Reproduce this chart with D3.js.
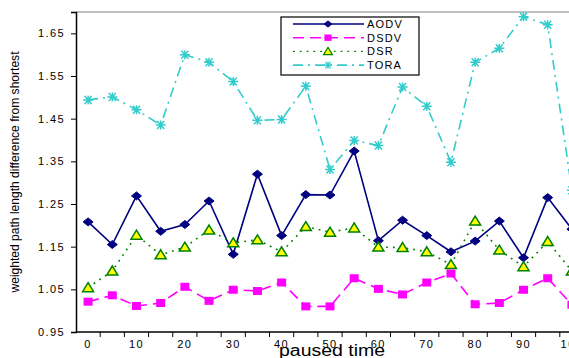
<!DOCTYPE html>
<html>
<head>
<meta charset="utf-8">
<script src="https://cdn.jsdelivr.net/npm/d3@7"></script>
<style>
    body { margin: 0; background: #fff; }
    text { font-family: "Liberation Sans", Arial, sans-serif; }
</style>
</head>
<body>
<div id="chart"></div>
<script>
var pausedTimes = [0, 5, 10, 15, 20, 25, 30, 35, 40, 45, 50, 55, 60, 65, 70, 75, 80, 85, 90, 95, 100];
var tickLabels = [0, 10, 20, 30, 40, 50, 60, 70, 80, 90, 100];
var yTicks = [0.95, 1.05, 1.15, 1.25, 1.35, 1.45, 1.55, 1.65];
var seriesNames = ["AODV", "DSDV", "DSR", "TORA"];

var aodv = [1.208, 1.155, 1.269, 1.186, 1.202, 1.257, 1.132, 1.320, 1.176, 1.272, 1.271, 1.374, 1.164, 1.212, 1.176, 1.138, 1.163, 1.210, 1.124, 1.265, 1.191];
var dsdv = [1.021, 1.036, 1.011, 1.018, 1.056, 1.023, 1.049, 1.046, 1.066, 1.010, 1.010, 1.076, 1.051, 1.038, 1.066, 1.087, 1.015, 1.018, 1.049, 1.076, 1.014];
var dsr = [1.054, 1.093, 1.177, 1.131, 1.149, 1.189, 1.159, 1.166, 1.138, 1.197, 1.184, 1.194, 1.149, 1.148, 1.138, 1.108, 1.210, 1.142, 1.103, 1.162, 1.093];
var tora = [1.494, 1.501, 1.471, 1.435, 1.600, 1.582, 1.537, 1.446, 1.448, 1.526, 1.331, 1.399, 1.387, 1.524, 1.479, 1.348, 1.582, 1.615, 1.689, 1.670, 1.282];

var width = 569, height = 358;
var margin = { top: 12, left: 76, bottom: 26 };
var plotW = 508;
var plotBottom = height - margin.bottom;

var svg = d3.select("#chart").append("svg")
    .attr("width", width)
    .attr("height", height);

var x = d3.scaleBand()
    .domain(pausedTimes)
    .range([margin.left, margin.left + plotW]);

var y = d3.scaleLinear()
    .domain([0.95, 1.70])
    .range([plotBottom, margin.top]);

var cx = d => x(d) + x.bandwidth() / 2;

// styles per series
var styles = [
    { data: aodv, color: "#000080", dash: null, marker: "diamond", sw: 1.6 },
    { data: dsdv, color: "#ff00ff", dash: "11,6", marker: "square", sw: 1.6 },
    { data: dsr, color: "#008000", dash: "1.8,5", marker: "triangle", sw: 1.6 },
    { data: tora, color: "#33cccc", dash: "10,5,2,5", marker: "star", sw: 1.6 }
];

// plot border top (grey)
svg.append("line")
    .attr("x1", margin.left).attr("x2", width)
    .attr("y1", margin.top).attr("y2", margin.top)
    .attr("stroke", "#aaaaaa").attr("stroke-width", 1.5);

// y axis
var yAxis = d3.axisLeft(y)
    .tickValues(yTicks)
    .tickFormat(d3.format(".2f"))
    .tickSize(5)
    .tickPadding(6);

var gy = svg.append("g")
    .attr("transform", "translate(" + margin.left + ",0)")
    .call(yAxis);
gy.select(".domain").attr("stroke", "#000").attr("stroke-width", 1.5);
gy.selectAll(".tick line").attr("stroke", "#000");
gy.selectAll("text")
    .attr("font-size", 11)
    .attr("letter-spacing", "1.4px")
    .attr("fill", "#000");

// x axis: ticks at band boundaries, labels on every other category
var gx = svg.append("g")
    .attr("transform", "translate(0," + plotBottom + ")");
gx.append("line")
    .attr("x1", margin.left).attr("x2", margin.left + plotW)
    .attr("stroke", "#000").attr("stroke-width", 1.5);
gx.selectAll(".xtick")
    .data(pausedTimes)
    .enter().append("line")
    .attr("class", "xtick")
    .attr("x1", d => x(d) + x.bandwidth())
    .attr("x2", d => x(d) + x.bandwidth())
    .attr("y1", 0).attr("y2", 5)
    .attr("stroke", "#000");
gx.selectAll(".xlabel")
    .data(tickLabels)
    .enter().append("text")
    .attr("class", "xlabel")
    .attr("x", d => cx(d))
    .attr("y", 16)
    .attr("text-anchor", "middle")
    .attr("font-size", 11)
    .attr("letter-spacing", "1.4px")
    .text(d => d);

// axis titles
svg.append("text")
    .attr("x", 332)
    .attr("y", 356)
    .attr("text-anchor", "middle")
    .attr("font-size", 16)
    .attr("textLength", 106)
    .attr("lengthAdjust", "spacingAndGlyphs")
    .text("paused time");

svg.append("text")
    .attr("transform", "translate(19,172) rotate(-90)")
    .attr("text-anchor", "middle")
    .attr("font-size", 13)
    .attr("textLength", 241)
    .attr("lengthAdjust", "spacingAndGlyphs")
    .text("weighted path length difference from shortest");

function drawMarker(g, kind, color) {
    if (kind === "diamond") {
        g.append("path").attr("d", "M-5,0L0,-4L5,0L0,4Z").attr("fill", color).attr("stroke", color);
    } else if (kind === "square") {
        g.append("rect").attr("x", -4.5).attr("y", -4).attr("width", 9).attr("height", 8).attr("fill", color);
    } else if (kind === "triangle") {
        g.append("path").attr("d", "M0,-5L5.5,4L-5.5,4Z")
            .attr("fill", "#ffff00").attr("stroke", color).attr("stroke-width", 1.5);
    } else {
        g.append("path").attr("d", "M-5,0L5,0M-3.5,-4L3.5,4M-3.5,4L3.5,-4M0,-4.5L0,4.5")
            .attr("stroke", color).attr("stroke-width", 1.5).attr("fill", "none");
    }
}

var line = d3.line()
    .x((d, i) => cx(pausedTimes[i]))
    .y(d => y(d));

styles.forEach(s => {
    svg.append("path")
        .datum(s.data)
        .attr("fill", "none")
        .attr("stroke", s.color)
        .attr("stroke-width", s.sw)
        .attr("stroke-dasharray", s.dash)
        .attr("d", line);

    svg.selectAll(null)
        .data(s.data)
        .enter().append("g")
        .attr("transform", (d, i) => "translate(" + cx(pausedTimes[i]) + "," + y(d) + ")")
        .each(function () { drawMarker(d3.select(this), s.marker, s.color); });
});

// legend
var legend = svg.append("g");
legend.append("rect")
    .attr("x", 281).attr("y", 17)
    .attr("width", 138).attr("height", 58)
    .attr("fill", "#fff").attr("stroke", "#000").attr("stroke-width", 1.2);

styles.forEach((s, i) => {
    var ly = 24 + i * 13.7;
    legend.append("line")
        .attr("x1", 293).attr("x2", 364)
        .attr("y1", ly).attr("y2", ly)
        .attr("stroke", s.color)
        .attr("stroke-width", s.marker === "triangle" ? 1.2 : 1.6)
        .attr("stroke-dasharray", s.dash);
    drawMarker(legend.append("g").attr("transform", "translate(328," + ly + ") scale(0.8)"), s.marker, s.color);
    legend.append("text")
        .attr("x", 367).attr("y", ly + 4)
        .attr("font-size", 11)
        .attr("letter-spacing", "1.2px")
        .text(seriesNames[i]);
});
</script>
</body>
</html>
